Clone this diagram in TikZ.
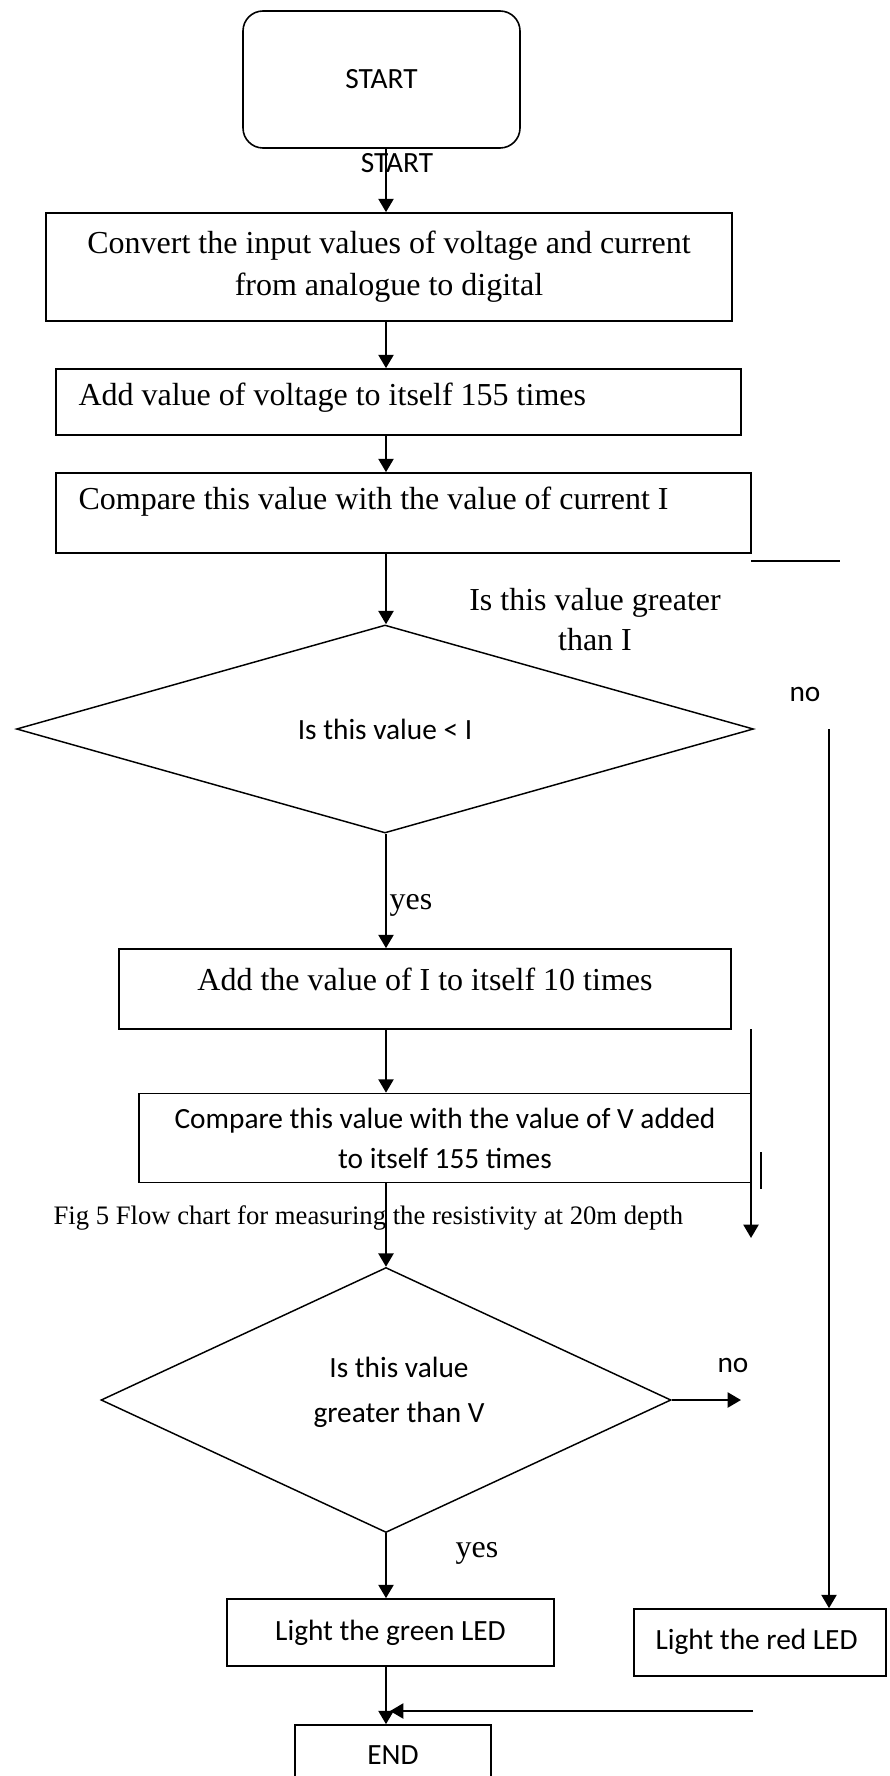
\documentclass[tikz,border=0pt]{standalone}
\usepackage{fontspec}
\setmainfont{Liberation Serif}
\newfontfamily\calfont{Carlito}
\usetikzlibrary{arrows.meta,shapes.geometric}
\newcommand\pxu{0.375pt}
\begin{document}
\begin{tikzpicture}[x=0.375pt,y=-0.375pt,
  every node/.style={inner sep=0pt},
  frame/.style={draw,line width=0.6pt,rectangle},
  decision/.style={draw,diamond,line width=0.55pt},
  serif/.style={font=\fontsize{12}{15.75}\selectfont},
  sans/.style={font=\calfont\fontsize{11}{15.75}\selectfont},
  conn/.style={line width=0.9pt,-{Triangle[length=5pt,width=5.6pt]}},
  plain/.style={line width=0.8pt}]
\useasboundingbox (0,0) rectangle (890,1776);
\coordinate (ax) at (386,0);

% start terminal and its duplicate caption
\node[frame,rounded corners=7.5pt,minimum width=277*\pxu,minimum height=137*\pxu,sans] (start) at (381.5,79.5) {START};
\node[sans] (startlbl) at (397,163) {START};

% processing steps
\node[frame,minimum width=686*\pxu,minimum height=108*\pxu,serif,align=center] (b1) at (389,267)
  {Convert the input values of voltage and current\\from analogue to digital};

\node[frame,minimum width=685*\pxu,minimum height=66*\pxu] (b2) at (398.5,402) {};
\node[serif,anchor=west] (t2) at (78,398) {Add value of voltage to itself 155 times};

\node[frame,minimum width=695*\pxu,minimum height=80*\pxu] (b3) at (403.5,513) {};
\node[serif,anchor=west] (t3) at (78,502) {Compare this value with the value of current I};

\node[align=center,font=\fontsize{12}{15}\selectfont] (q1) at (595,620) {Is this value greater\\than I};

% first decision
\node[decision,minimum width=737*\pxu,minimum height=208*\pxu,sans] (d1) at (385,729) {Is this value < I};
\node[sans] (no1) at (805,694) {no};
\node[serif] (yes1) at (411,905) {yes};

\node[frame,minimum width=612*\pxu,minimum height=80*\pxu] (b4) at (425,989) {};
\node[serif] (t4) at (425,979) {Add the value of I to itself 10 times};

\node[frame,minimum width=612*\pxu,minimum height=89*\pxu,align=center,font=\calfont\fontsize{11}{15}\selectfont] (b5) at (445,1138)
  {Compare this value with the value of V added\\to itself 155 times};

\node[font=\fontsize{10}{12}\selectfont,anchor=west] (cap) at (53,1218)
  {Fig 5 Flow chart for measuring the resistivity at 20m depth};

% second decision
\node[decision,minimum width=570*\pxu,minimum height=265*\pxu] (d2) at (386,1400) {};
\node[align=center,font=\calfont\fontsize{11}{16.9}\selectfont] (t5) at (399,1392) {Is this value\\greater than V};
\node[sans] (no2) at (733,1365) {no};
\node[serif] (yes2) at (477,1553) {yes};

% outputs
\node[frame,minimum width=327*\pxu,minimum height=67*\pxu,sans] (green) at (390.5,1632.5) {Light the green LED};
\node[frame,minimum width=252*\pxu,minimum height=67*\pxu] (red) at (760,1642.5) {};
\node[sans,anchor=west] (t6) at (655,1642) {Light the red LED};
\node[frame,minimum width=196*\pxu,minimum height=60*\pxu,sans] (end) at (393,1755) {END};

% main flow
\draw[conn] (start.south -| ax) -- (b1.north -| ax);
\draw[conn] (b1.south -| ax) -- (b2.north -| ax);
\draw[conn] (b2.south -| ax) -- (b3.north -| ax);
\draw[conn] (b3.south -| ax) -- (d1.north -| ax);
\draw[conn] (d1.south -| ax) -- (b4.north -| ax);
\draw[conn] (b4.south -| ax) -- (b5.north -| ax);
\draw[conn] (b5.south -| ax) -- (d2.north);
\draw[conn] (d2.south) -- (green.north -| ax);
\draw[conn] (green.south -| ax) -- (end.north -| ax);

% side branches
\coordinate (n2) at (741,1400);
\draw[conn] (d2.east) -- (n2);
\coordinate (n1) at (829,729);
\draw[conn] (n1) -- (red.north -| n1);
\coordinate (r1) at (751,1029);
\coordinate (r2) at (751,1238);
\draw[conn] (r1) -- (r2);
\coordinate (m1) at (761,1152);
\coordinate (m2) at (761,1189);
\draw[line width=0.5pt] (m1) -- (m2);
\coordinate (s1) at (751,561);
\coordinate (s2) at (840,561);
\draw[plain] (s1) -- (s2);
\coordinate (ret) at (753,1711);
\coordinate (retend) at (390,1711);
\draw[conn] (ret) -- (retend);
\end{tikzpicture}
\end{document}
